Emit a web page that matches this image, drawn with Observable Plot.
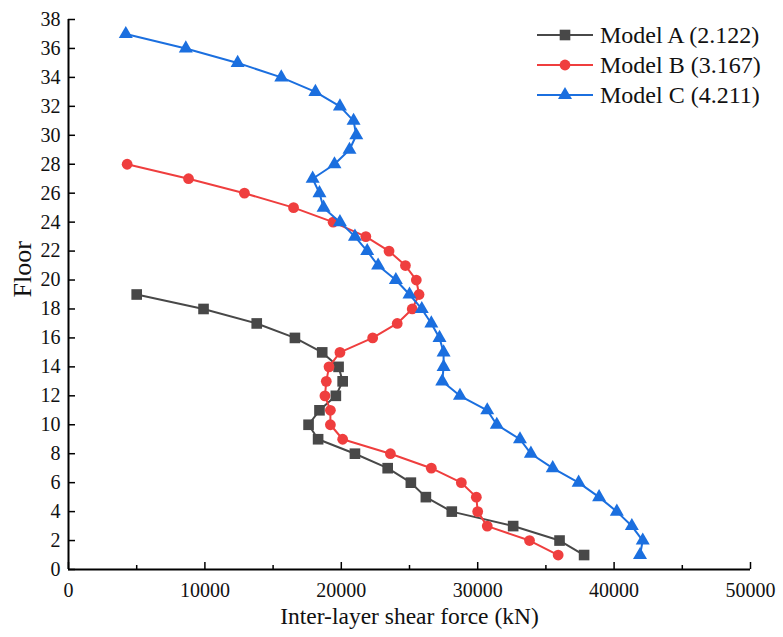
<!DOCTYPE html>
<html>
<head>
<meta charset="utf-8">
<script src="https://cdn.jsdelivr.net/npm/d3@7"></script>
<script src="https://cdn.jsdelivr.net/npm/@observablehq/plot@0.6"></script>
<style>
  html, body { margin: 0; padding: 0; background: white; }
  #wrap { position: relative; width: 783px; height: 637px; font-family: "Liberation Serif", "Times New Roman", serif; }
  #legend { position: absolute; left: 537px; top: 20px; }
  .row { display: flex; align-items: center; height: 30px; font-size: 24px; color: #111; white-space: nowrap; }
  .row svg { margin-right: 7px; }
</style>
</head>
<body>
<div id="wrap"><div id="legend"></div></div>
<script>
// ---- data ----
const modelNames = ["Model A (2.122)", "Model B (3.167)", "Model C (4.211)"];
const modelColors = ["#484848", "#ef3e3e", "#1b6fdf"];
const modelSymbols = ["square", "circle", "triangle"];

const floorsA = [19, 18, 17, 16, 15, 14, 13, 12, 11, 10, 9, 8, 7, 6, 5, 4, 3, 2, 1];
const shearA  = [5000, 9900, 13800, 16600, 18600, 19800, 20100, 19600, 18400, 17600, 18300, 21000, 23400, 25100, 26200, 28100, 32600, 36000, 37800];

const floorsB = [28, 27, 26, 25, 24, 23, 22, 21, 20, 19, 18, 17, 16, 15, 14, 13, 12, 11, 10, 9, 8, 7, 6, 5, 4, 3, 2, 1];
const shearB  = [4300, 8800, 12900, 16500, 19400, 21800, 23500, 24700, 25500, 25700, 25200, 24100, 22300, 19900, 19100, 18900, 18800, 19200, 19200, 20100, 23600, 26600, 28800, 29900, 30000, 30700, 33800, 35900];

const floorsC = [37, 36, 35, 34, 33, 32, 31, 30, 29, 28, 27, 26, 25, 24, 23, 22, 21, 20, 19, 18, 17, 16, 15, 14, 13, 12, 11, 10, 9, 8, 7, 6, 5, 4, 3, 2, 1];
const shearC  = [4200, 8600, 12400, 15600, 18100, 19900, 20900, 21100, 20600, 19500, 17900, 18400, 18700, 19900, 21000, 21900, 22700, 24000, 25000, 25900, 26600, 27200, 27500, 27500, 27400, 28700, 30700, 31400, 33100, 33900, 35500, 37400, 38900, 40200, 41300, 42100, 41900];

const xMajorTicks = [0, 10000, 20000, 30000, 40000, 50000];
const xMinorTicks = [5000, 15000, 25000, 35000, 45000];
const yTicks = [0, 2, 4, 6, 8, 10, 12, 14, 16, 18, 20, 22, 24, 26, 28, 30, 32, 34, 36, 38];

const xTitle = "Inter-layer shear force (kN)";
const yTitle = "Floor";

// ---- build ----
const series = [
  {floors: floorsA, shear: shearA, r: 6},
  {floors: floorsB, shear: shearB, r: 5.4},
  {floors: floorsC, shear: shearC, r: 5.2}
].map((s, i) => ({
  name: modelNames[i], color: modelColors[i], symbol: modelSymbols[i], r: s.r,
  rows: s.floors.map((f, j) => ({floor: f, shear: s.shear[j]}))
}));

const W = 783, H = 637, mL = 68, mR = 33, mT = 19, mB = 68;
const innerW = W - mL - mR, innerH = H - mT - mB;

const marks = [];
marks.push(Plot.axisX(xMajorTicks, {tickSize: 0, tickPadding: 13, tickFormat: d => String(d), fontSize: 20, label: null}));
marks.push(Plot.axisY(yTicks, {tickSize: 0, tickPadding: 8, tickFormat: d => String(d), fontSize: 20, label: null}));
marks.push(Plot.tickX(xMajorTicks, {x: d => d, insetTop: innerH - 7, stroke: "#000", strokeWidth: 1.5}));
marks.push(Plot.tickX(xMinorTicks, {x: d => d, insetTop: innerH - 4, stroke: "#000", strokeWidth: 1.5}));
marks.push(Plot.tickY(yTicks, {y: d => d, insetRight: innerW - 7, stroke: "#000", strokeWidth: 1.5}));
marks.push(Plot.ruleX([0], {stroke: "#000", strokeWidth: 2}));
marks.push(Plot.ruleY([0], {stroke: "#000", strokeWidth: 2}));
marks.push(Plot.text([xTitle], {frameAnchor: "bottom", dy: 54, fontSize: 23.5, fill: "#111"}));
marks.push(Plot.text([yTitle], {frameAnchor: "left", dx: -46, dy: 3, rotate: -90, fontSize: 26, fill: "#111"}));
for (const s of series) {
  marks.push(Plot.line(s.rows, {x: "shear", y: "floor", stroke: s.color, strokeWidth: 2}));
  marks.push(Plot.dot(s.rows, {x: "shear", y: "floor", fill: s.color, stroke: "none", symbol: s.symbol, r: s.r}));
}

const chart = Plot.plot({
  width: W, height: H,
  marginLeft: mL, marginRight: mR, marginTop: mT, marginBottom: mB,
  x: {domain: [0, 50000]},
  y: {domain: [0, 38]},
  style: {fontFamily: "'Liberation Serif', 'Times New Roman', serif", fontSize: "20px", color: "#111", background: "white"},
  marks
});
const wrap = document.getElementById("wrap");
wrap.insertBefore(chart, wrap.firstChild);

// ---- legend ----
const legend = document.getElementById("legend");
for (const s of series) {
  const row = document.createElement("div");
  row.className = "row";
  const sym = d3.symbol().type(s.symbol === "square" ? d3.symbolSquare : s.symbol === "circle" ? d3.symbolCircle : d3.symbolTriangle).size(Math.PI * s.r * s.r);
  row.innerHTML = `<svg width="56" height="20" viewBox="0 0 56 20"><line x1="0" x2="56" y1="10" y2="10" stroke="${s.color}" stroke-width="2"/><path transform="translate(28,10)" d="${sym()}" fill="${s.color}"/></svg><span>${s.name}</span>`;
  legend.appendChild(row);
}
</script>
</body>
</html>
